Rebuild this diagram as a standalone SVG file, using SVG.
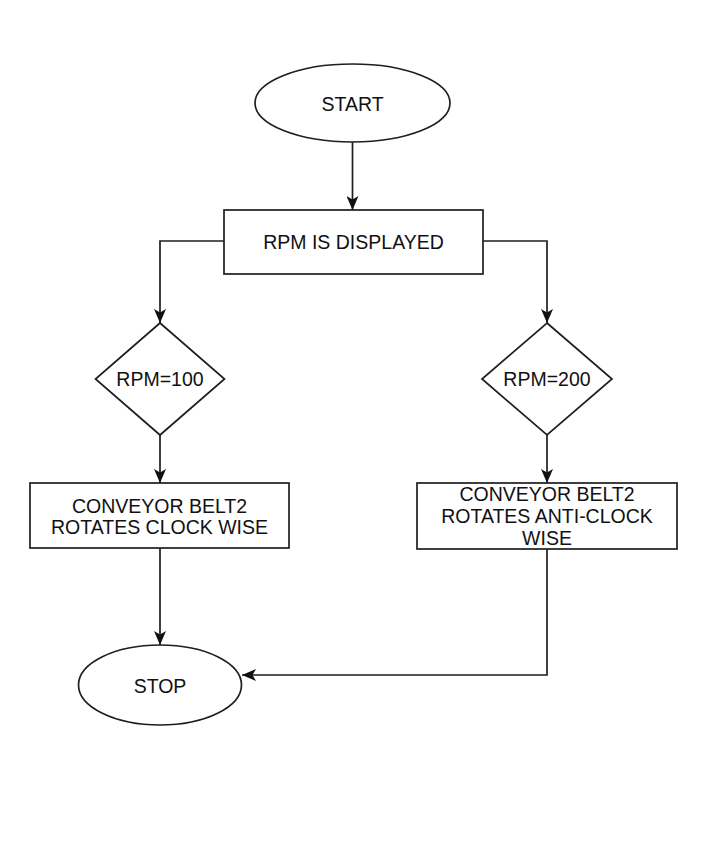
<svg xmlns="http://www.w3.org/2000/svg" width="719" height="861" viewBox="0 0 719 861">
<defs>
<style>
.shape{fill:#fff;stroke:#1e1e1e;stroke-width:1.7}
.edge{fill:none;stroke:#1e1e1e;stroke-width:1.7}
.lbl{font-family:"Liberation Sans",Arial,sans-serif;font-size:19.5px;fill:#111;text-anchor:middle;dominant-baseline:central}
</style>
<marker id="arr" viewBox="0 0 14 12" refX="14" refY="6" markerWidth="14" markerHeight="12" markerUnits="userSpaceOnUse" orient="auto">
<path d="M0,0 L14,6 L0,12 L3.5,6 Z" fill="#111"/>
</marker>
</defs>
<rect width="719" height="861" fill="#fff"/>
<g id="connectors">
<path class="edge" d="M352.5,142 L352.5,210" marker-end="url(#arr)"/>
<path class="edge" d="M224,241 L160,241 L160,323" marker-end="url(#arr)"/>
<path class="edge" d="M483,241 L547,241 L547,323" marker-end="url(#arr)"/>
<path class="edge" d="M160,435 L160,483" marker-end="url(#arr)"/>
<path class="edge" d="M547,435 L547,483" marker-end="url(#arr)"/>
<path class="edge" d="M160,548 L160,645" marker-end="url(#arr)"/>
<path class="edge" d="M547,549 L547,675 L242,675" marker-end="url(#arr)"/>
</g>
<g id="start">
<ellipse class="shape" cx="352.5" cy="103" rx="97.5" ry="39"/>
<text class="lbl" x="352.5" y="104">START</text>
</g>
<g id="rpm-displayed">
<rect class="shape" x="224" y="210" width="259" height="64"/>
<text class="lbl" x="353.5" y="242">RPM IS DISPLAYED</text>
</g>
<g id="rpm100">
<polygon class="shape" points="160,323 224.5,379 160,435 95.5,379"/>
<text class="lbl" x="160" y="379">RPM=100</text>
</g>
<g id="rpm200">
<polygon class="shape" points="547,323 612,379 547,435 482,379"/>
<text class="lbl" x="547" y="379">RPM=200</text>
</g>
<g id="clockwise">
<rect class="shape" x="30" y="483" width="259" height="65"/>
<text class="lbl" x="159.5" y="506">CONVEYOR BELT2</text>
<text class="lbl" x="159.5" y="527">ROTATES CLOCK WISE</text>
</g>
<g id="anticlockwise">
<rect class="shape" x="417" y="483" width="260" height="66"/>
<text class="lbl" x="547" y="494">CONVEYOR BELT2</text>
<text class="lbl" x="547" y="516">ROTATES ANTI-CLOCK</text>
<text class="lbl" x="547" y="538">WISE</text>
</g>
<g id="stop">
<ellipse class="shape" cx="160" cy="685" rx="81.5" ry="40"/>
<text class="lbl" x="160" y="686">STOP</text>
</g>
</svg>
